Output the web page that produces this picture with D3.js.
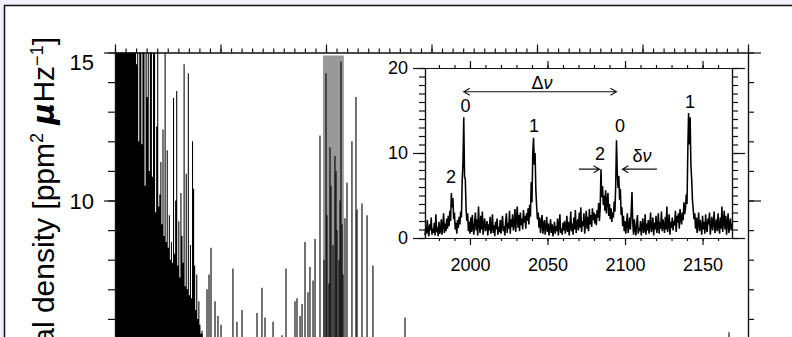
<!DOCTYPE html>
<html><head><meta charset="utf-8">
<script src="https://cdn.jsdelivr.net/npm/d3@7/dist/d3.min.js"></script>
<style>body{margin:0;background:#f0f0f8}svg{display:block}text{font-family:"Liberation Sans",Arial,sans-serif;fill:#000}</style>
</head><body><svg id="c" width="792" height="337"></svg>
<script>
// ---------- DATA ----------
// main spectrum, low-frequency dense part: values every 10 μHz starting at 0 μHz
const lowStart = 0, lowStep = 10;
const lowPower = [
 30,30,30,30,30,30,30,30,30,30, 30,30,30,30,30,30,30,30,30,30,
 14.6,20,12.0,20,18,11.9,20,16,10.5,20, 13.5,20,11,17,20,10.8,15.5,20,9.6,12.5,
 20,9.8,10.2,11.3,9.2,12.4,8.8,20,8.6,11.7, 8.4,9.5,8.0,8.6,7.9,13.46,8.2,10.0,13.7,7.8,
 9.3,7.4,10.25,8.8,7.9,14.6,7.1,10.9,7.0,14.3, 6.8,8.5,6.7,12.0,10.4,7.8,6.3,7.5,6.0,6.6,
 5.8,5.5,5.6,5.3,5.0,4.8,4.6,4.5,4.3,4.2
];
// main spectrum, individual peaks (μHz, ppm² μHz⁻¹)
const peakFreq = [825,872,891,910,948,976,1005,1118,1156,1204,1346,1393,1422,1498,1583,1621,1706,1725,1754,1773,1801,1829,1848,1877,1896,1943,
 1981,2000,2009,2028,2038,2047,2066,2085,2095,2104,2123,2133,2142,2152,2161,
 2180,2199,2246,2284,2294,2341,2389,2445,2749,5820];
const peakPower = [5.5,7.0,7.5,8.4,6.6,6.1,5.8,7.7,5.9,6.3,6.2,7.05,6.05,5.9,5.45,7.7,6.6,6.7,6.1,6.5,8.6,6.9,7.75,7.3,8.7,12.2,
 8.0,14.3,9.5,7.2,11.8,10.5,8.5,11.5,11.0,9.0,8.0,10.0,14.7,9.2,7.5,
 9.4,10.6,12.0,13.5,9.7,9.9,9.5,7.8,6.05,5.55];
// inset spectrum: values every 0.5 μHz starting at 1971 μHz
const insetStart = 1971, insetStep = 0.5;
const insetPower = [
 0.3,1.2,0.5,2.1,0.8,0.2,1.6,0.9,2.4,0.4,1.1,0.6,1.8,0.3,2.8,0.7,1.3,0.2,1.9,0.5,
 0.9,2.2,0.4,1.5,2.9,0.6,1.7,0.8,2.3,1.1,2.6,1.4,3.2,2.0,5.3,3.6,4.7,2.2,3.0,1.0,
 1.8,0.5,2.1,1.2,2.5,1.6,3.1,2.4,6.8,8.9,14.2,7.2,6.9,3.4,2.0,2.9,0.8,1.9,0.5,2.4,
 0.7,2.7,1.3,0.4,1.8,3.0,0.9,2.2,0.3,3.7,1.5,0.6,2.6,1.0,3.1,0.4,1.7,2.3,0.8,1.4,
 2.0,0.3,1.6,0.9,2.5,0.5,1.2,2.8,0.6,1.5,0.2,1.9,1.0,2.3,0.4,1.3,0.7,2.1,0.5,1.6,
 2.6,0.8,1.4,0.3,1.9,2.9,0.6,1.8,1.1,3.2,0.5,2.2,1.3,2.8,0.9,1.6,3.4,0.7,2.4,3.7,
 1.2,2.7,0.8,3.0,1.5,2.3,1.0,3.3,1.8,2.6,1.1,2.9,2.0,3.5,1.6,3.9,2.5,6.6,4.2,10.0,
 11.8,8.6,10.0,5.6,3.8,2.2,3.0,1.2,2.4,0.6,1.8,2.7,0.5,1.5,2.1,0.4,1.3,2.5,0.7,1.7,
 0.3,1.2,2.2,0.6,1.6,0.2,1.0,1.9,0.5,1.4,0.8,2.3,0.3,1.5,2.8,0.6,1.1,0.4,1.8,0.9,
 2.0,0.5,1.3,2.6,0.7,1.9,0.3,1.4,3.1,0.8,1.7,0.4,2.4,1.0,3.3,0.6,1.5,2.2,0.9,3.0,
 1.2,3.6,0.7,2.0,1.4,2.9,0.5,1.8,3.2,1.1,2.5,0.8,3.4,1.6,2.7,1.3,3.5,2.1,3.0,1.7,
 2.8,1.5,3.3,2.4,4.1,2.0,3.6,8.1,4.8,6.1,3.9,5.0,3.2,5.6,2.9,4.6,5.3,2.6,4.0,2.2,
 3.5,1.9,3.0,2.4,4.3,3.1,6.2,11.5,7.8,5.9,7.3,4.5,5.8,2.7,3.6,1.4,2.6,0.8,2.0,0.5,
 1.7,2.9,0.6,1.3,2.4,1.0,3.2,5.4,1.8,0.4,2.2,1.1,0.3,1.6,2.7,0.5,1.2,0.8,2.0,0.3,
 1.4,2.3,0.6,1.0,2.8,0.4,1.7,0.9,2.1,0.5,1.5,3.0,0.7,1.2,2.4,0.3,1.8,1.0,2.6,0.6,
 1.3,2.9,0.5,1.9,1.1,3.1,0.8,2.2,1.4,0.6,2.5,1.0,3.7,0.7,1.6,2.8,0.4,1.9,1.2,2.4,
 0.9,2.0,1.5,3.2,0.7,2.6,1.8,2.9,1.1,3.4,2.3,1.6,3.0,2.1,4.2,2.8,3.5,5.1,4.0,10.3,
 14.7,11.0,14.2,8.5,6.9,4.5,3.3,2.2,2.9,1.1,2.4,0.6,1.7,3.0,0.8,2.1,1.4,0.4,2.6,1.0,
 1.9,0.5,2.8,1.2,0.7,2.3,1.6,3.0,0.4,1.5,2.5,0.9,1.8,3.1,0.6,1.3,2.2,0.8,2.9,1.4,
 0.5,2.4,1.1,3.7,0.7,2.0,3.2,1.0,2.6,0.4,1.8,2.9,0.6,1.5,2.3,0.9,1.7
];
const mainYTicks = [15, 10];
const insetXTicks = [2000, 2050, 2100, 2150];
const insetYTicks = [0, 10, 20];
const yLabel = ["Power spectral density [ppm", "2", " ", "μ", "Hz", "−1", "]"];

// ---------- SCALES ----------
const svg = d3.select("#c");
const xM = d3.scaleLinear().domain([0, 6000]).range([115, 748]);
const yM = d3.scaleLinear().domain([0, 15]).range([496.5, 52.5]);
const xI = d3.scaleLinear().domain([1971, 2169]).range([425, 732]);
const yI = d3.scaleLinear().domain([0, 20]).range([238, 68]);

svg.append("rect").attr("width", 792).attr("height", 337).attr("fill", "#f0f0f8");
svg.append("rect").attr("x", 4.5).attr("y", 5.5).attr("width", 900).attr("height", 500)
  .attr("fill", "#fff").attr("stroke", "#111").attr("stroke-width", 1.5);

// clip
svg.append("defs").append("clipPath").attr("id", "mclip").append("rect")
  .attr("x", xM(0)).attr("y", yM(15)).attr("width", xM(6000) - xM(0)).attr("height", 500);

const gm = svg.append("g").attr("clip-path", "url(#mclip)");
// grey band = inset range
gm.append("rect").attr("x", xM(1971)).attr("width", xM(2169) - xM(1971))
  .attr("y", yM(14.9)).attr("height", 400).attr("fill", "#999");

const lowData = lowPower.map((v, i) => ({ f: lowStart + i * lowStep, v }));
lowData.push({ f: lowStart + lowPower.length * lowStep, v: 0 });
gm.append("path").datum(lowData)
  .attr("d", d3.area().curve(d3.curveStepAfter).x(d => xM(d.f)).y0(yM(0)).y1(d => yM(d.v)))
  .attr("fill", "#000");
const pkData = peakFreq.map((f, i) => ({ f, v: peakPower[i] }));
gm.selectAll("line.pk").data(pkData).join("line").attr("class", "pk")
  .attr("x1", d => xM(d.f)).attr("x2", d => xM(d.f))
  .attr("y1", yM(0)).attr("y2", d => yM(d.v))
  .attr("stroke", "#000").attr("stroke-width", 1.1);

// main axes
function styleAxis(g) {
  g.selectAll("path,line").attr("stroke", "#111").attr("stroke-width", 1.2);
  g.selectAll("text").attr("font-family", null);
}
const minorX = d3.range(0, 6001, 100), majorX = d3.range(0, 6001, 1000);
svg.append("g").attr("transform", `translate(0,${yM(15)})`)
  .call(d3.axisTop(xM).tickValues(minorX).tickSize(4).tickSizeOuter(0).tickFormat("")).call(styleAxis);
svg.append("g").attr("transform", `translate(0,${yM(15)})`)
  .call(d3.axisTop(xM).tickValues(majorX).tickSize(8).tickSizeOuter(0).tickFormat("")).call(styleAxis);
const minorY = d3.range(5, 16, 1), majorY = [5, 10, 15];
svg.append("g").attr("transform", `translate(${xM(0)},0)`)
  .call(d3.axisLeft(yM).tickValues(minorY).tickSize(7).tickSizeOuter(0).tickFormat("")).call(styleAxis);
const gl = svg.append("g").attr("transform", `translate(${xM(0)},0)`)
  .call(d3.axisLeft(yM).tickValues(majorY).tickSize(11).tickSizeOuter(0).tickPadding(10).tickFormat(d => mainYTicks.includes(d) ? d : "")).call(styleAxis);
gl.selectAll("text").attr("font-size", 22).attr("font-family", null)
  .attr("dy", d => d === 15 ? "0.75em" : "0.36em");
svg.append("g").attr("transform", `translate(${xM(6000)},0)`)
  .call(d3.axisRight(yM).tickValues(minorY).tickSize(6).tickSizeOuter(0).tickFormat("")).call(styleAxis);
svg.append("g").attr("transform", `translate(${xM(6000)},0)`)
  .call(d3.axisRight(yM).tickValues(majorY).tickSize(13).tickSizeOuter(0).tickFormat("")).call(styleAxis);

// y label
const yl = svg.append("text").attr("transform", "translate(54,37) rotate(-90)")
  .attr("text-anchor", "end").attr("font-size", 30);
yl.append("tspan").text(yLabel[0]);
yl.append("tspan").attr("dy", -11).attr("font-size", 18).text(yLabel[1]);
yl.append("tspan").attr("dy", 11).text(yLabel[2]);
yl.append("tspan").attr("font-style", "italic").attr("font-weight", "bold").attr("font-family", "DejaVu Sans").text(yLabel[3]);
yl.append("tspan").text(yLabel[4]);
yl.append("tspan").attr("dy", -11).attr("font-size", 18).text(yLabel[5]);
yl.append("tspan").attr("dy", 11).text(yLabel[6]);

// ---------- INSET ----------
svg.append("rect").attr("x", xI(1971)).attr("y", yI(20)).attr("width", xI(2169) - xI(1971))
  .attr("height", yI(0) - yI(20)).attr("fill", "#fff");
const insetData = insetPower.map((v, i) => ({ f: insetStart + i * insetStep, v }));
svg.append("path").datum(insetData)
  .attr("d", d3.line().x(d => xI(d.f)).y(d => yI(d.v)))
  .attr("fill", "none").attr("stroke", "#000").attr("stroke-width", 1.55).attr("stroke-linejoin", "bevel");

const minXI = d3.range(1980, 2169, 10), majXI = insetXTicks;
const minYI = d3.range(0, 21, 1);
svg.append("g").attr("transform", `translate(0,${yI(0)})`)
  .call(d3.axisBottom(xI).tickValues(minXI).tickSize(3).tickSizeOuter(0).tickFormat("")).call(styleAxis);
const gb = svg.append("g").attr("transform", `translate(0,${yI(0)})`)
  .call(d3.axisBottom(xI).tickValues(majXI).tickSize(7).tickSizeOuter(0).tickPadding(13).tickFormat(d => d)).call(styleAxis);
gb.selectAll("text").attr("font-size", 18);
svg.append("g").attr("transform", `translate(0,${yI(20)})`)
  .call(d3.axisTop(xI).tickValues(minXI).tickSize(3).tickSizeOuter(0).tickFormat("")).call(styleAxis);
svg.append("g").attr("transform", `translate(0,${yI(20)})`)
  .call(d3.axisTop(xI).tickValues(majXI).tickSize(7).tickSizeOuter(0).tickFormat("")).call(styleAxis);
svg.append("g").attr("transform", `translate(${xI(1971)},0)`)
  .call(d3.axisLeft(yI).tickValues(minYI).tickSize(6).tickSizeOuter(0).tickFormat("")).call(styleAxis);
const gil = svg.append("g").attr("transform", `translate(${xI(1971)},0)`)
  .call(d3.axisLeft(yI).tickValues(insetYTicks).tickSize(12).tickSizeOuter(0).tickPadding(5).tickFormat(d => d)).call(styleAxis);
gil.selectAll("text").attr("font-size", 18);
svg.append("g").attr("transform", `translate(${xI(2169)},0)`)
  .call(d3.axisRight(yI).tickValues(minYI).tickSize(6).tickSizeOuter(0).tickFormat("")).call(styleAxis);
svg.append("g").attr("transform", `translate(${xI(2169)},0)`)
  .call(d3.axisRight(yI).tickValues(insetYTicks).tickSize(13).tickSizeOuter(0).tickFormat("")).call(styleAxis);

// annotations
function lab(f, v, t, italic) {
  const s = svg.append("text").attr("x", xI(f)).attr("y", yI(v)).attr("text-anchor", "middle")
    .attr("dominant-baseline", "central").attr("font-size", 18);
  if (italic) {
    s.append("tspan").text(t[0]);
    s.append("tspan").attr("font-style", "italic").text(t[1]);
  } else s.text(t);
}
function arrow(f1, f2, v, heads) {
  const y = yI(v), x1 = xI(f1), x2 = xI(f2);
  let d = `M${x1},${y}L${x2},${y}`;
  const h = 6, w = 3.5;
  if (heads.includes("s")) d += `M${x1 + h},${y - w}L${x1},${y}L${x1 + h},${y + w}`;
  if (heads.includes("e")) d += `M${x2 - h},${y - w}L${x2},${y}L${x2 - h},${y + w}`;
  svg.append("path").attr("d", d).attr("fill", "none").attr("stroke", "#111").attr("stroke-width", 1.1);
}
lab(2046.5, 18.2, ["Δ", "ν"], true);
arrow(1996, 2094.5, 17.2, "se");
lab(1997.2, 15.5, "0");
lab(2041.3, 13.2, "1");
lab(1987.8, 7.2, "2");
lab(2096.8, 13.2, "0");
lab(2083.9, 9.9, "2");
lab(2111, 9.6, ["δ", "ν"], true);
arrow(2070.3, 2083.6, 8.1, "e");
arrow(2098.3, 2120.6, 8.1, "s");
lab(2141.9, 16.0, "1");
</script></body></html>
